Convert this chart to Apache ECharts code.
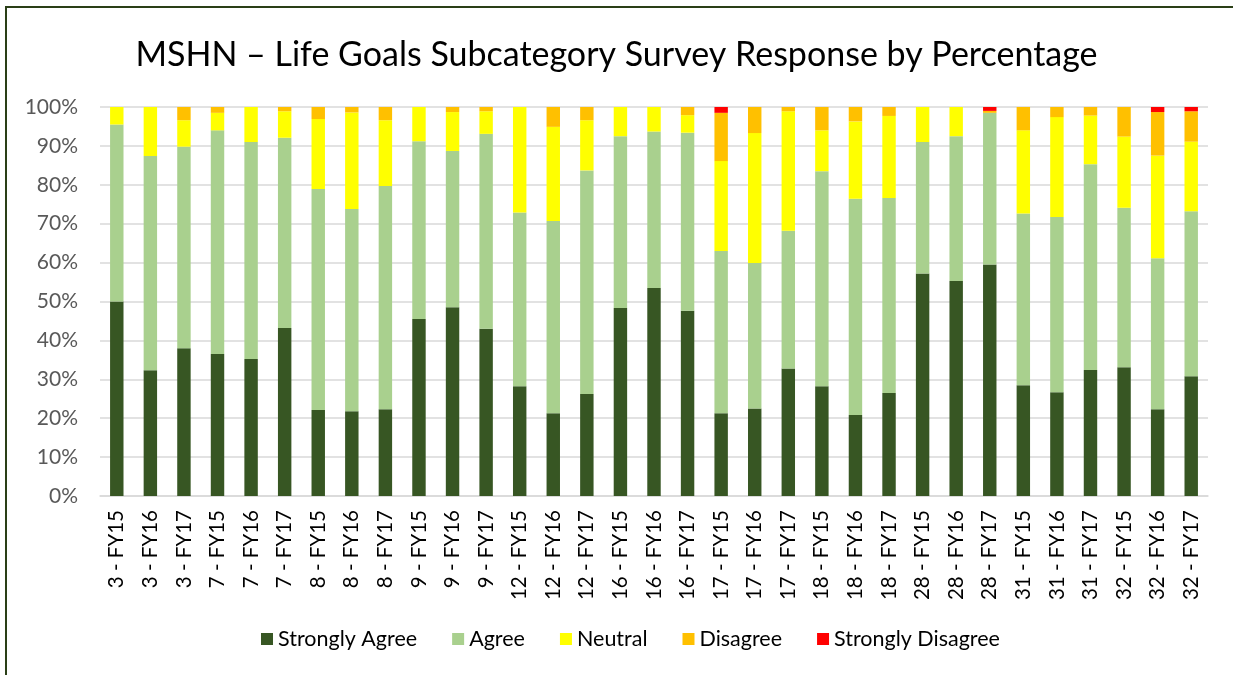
<!DOCTYPE html>
<html>
<head>
<meta charset="utf-8">
<script src="https://cdn.jsdelivr.net/npm/echarts@6/dist/echarts.min.js"></script>
<style>
html,body{margin:0;padding:0;background:#fff;}
#chart{width:1233px;height:675px;}
</style>
</head>
<body>
<div id="chart"></div>
<script>
const categories = ["3 - FY15","3 - FY16","3 - FY17","7 - FY15","7 - FY16","7 - FY17","8 - FY15","8 - FY16","8 - FY17",
  "9 - FY15","9 - FY16","9 - FY17","12 - FY15","12 - FY16","12 - FY17","16 - FY15","16 - FY16","16 - FY17",
  "17 - FY15","17 - FY16","17 - FY17","18 - FY15","18 - FY16","18 - FY17","28 - FY15","28 - FY16","28 - FY17",
  "31 - FY15","31 - FY16","31 - FY17","32 - FY15","32 - FY16","32 - FY17"];
const stronglyAgree = [50.0,32.3,38.0,36.5,35.2,43.2,22.1,21.8,22.3, 45.5,48.5,43.0,28.2,21.3,26.2,48.3,53.5,47.6, 21.3,22.5,32.8,28.2,20.8,26.5,57.2,55.3,59.5, 28.5,26.7,32.4,33.1,22.3,30.8];
const agree =         [45.5,55.1,51.8,57.5,55.8,48.9,56.8,52.0,57.4, 45.7,40.2,50.1,44.7,49.4,57.5,44.2,40.2,45.8, 41.7,37.4,35.4,55.3,55.6,50.1,33.8,37.2,39.0, 44.1,45.0,52.9,41.0,38.8,42.4];
const neutral =       [4.5,12.6,6.8,4.5,9.0,6.8,18.0,24.8,16.9, 8.8,10.0,5.8,27.1,24.2,12.9,7.5,6.3,4.5, 23.1,33.4,30.7,10.5,19.9,21.1,9.0,7.5,0, 21.4,25.7,12.5,18.3,26.4,17.9];
const disagree =      [0,0,3.4,1.5,0,1.1,3.1,1.4,3.4, 0,1.3,1.1,0,5.1,3.4,0,0,2.1, 12.4,6.7,1.1,6.0,3.7,2.3,0,0,0.5, 6.0,2.6,2.2,7.6,11.2,7.8];
const stronglyDisagree=[0,0,0,0,0,0,0,0,0, 0,0,0,0,0,0,0,0,0, 1.5,0,0,0,0,0,0,0,1.0, 0,0,0,0,1.3,1.1];
const seriesNames = ["Strongly Agree","Agree","Neutral","Disagree","Strongly Disagree"];
const seriesColors = ["#375623","#a9d08e","#ffff00","#ffc000","#ff0000"];
const yTicks = [0,10,20,30,40,50,60,70,80,90,100];

const font = "Lato, 'Open Sans', sans-serif";
const seriesData = [stronglyAgree, agree, neutral, disagree, stronglyDisagree];
const chart = echarts.init(document.getElementById('chart'), null, {renderer:'canvas'});
chart.setOption({
  backgroundColor:'#ffffff',
  animation:false,
  title:{text:"MSHN – Life Goals Subcategory Survey Response by Percentage", left:'center', top:33,
    textStyle:{fontFamily:font, fontWeight:'normal', fontSize:34, color:'#000000'}},
  legend:{data:seriesNames, bottom:20, left:256, itemWidth:12, itemHeight:12, itemGap:35, icon:'rect',
    textStyle:{fontFamily:font, fontSize:21.5, color:'#000000'}},
  grid:{left:100, right:25, top:107, bottom:179, containLabel:false},
  xAxis:{type:'category', data:categories,
    axisLine:{lineStyle:{color:'#d9d9d9', width:1.5}}, axisTick:{show:false},
    axisLabel:{rotate:90, interval:0, margin:14, fontFamily:font, fontSize:20.5, color:'#000000'}},
  yAxis:{type:'value', min:yTicks[0], max:yTicks[yTicks.length-1], interval:10,
    axisLine:{show:false}, axisTick:{show:false},
    splitLine:{lineStyle:{color:'#d9d9d9', width:1.5}},
    axisLabel:{formatter:v=>v+'%', margin:22, fontFamily:font, fontSize:21, color:'#595959'}},
  series: seriesNames.map((n,i)=>({name:n, type:'bar', stack:'total', barWidth:'40%',
    itemStyle:{color:seriesColors[i]}, data:seriesData[i]})),
  graphic:[
    {type:'rect', shape:{x:6, y:7, width:1300, height:700}, style:{fill:'none', stroke:'#2a3f17', lineWidth:2}, silent:true}
  ]
});
</script>
</body>
</html>
